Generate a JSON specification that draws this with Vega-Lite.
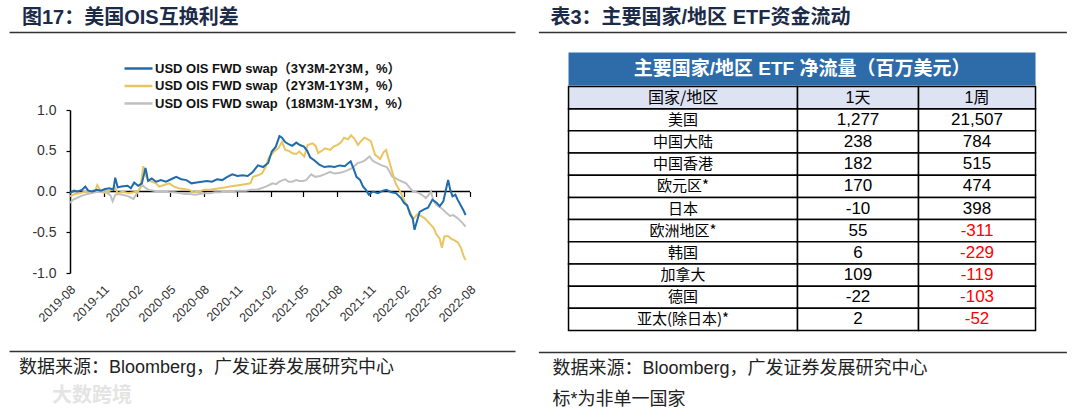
{
  "$schema": "https://vega.github.io/schema/vega-lite/v6.json",
  "padding": {"left": 9, "top": 0, "right": 5, "bottom": 0},
  "autosize": {"type": "pad"},
  "background": "#ffffff",
  "spacing": 23.4,
  "datasets": {
    "blue": [
      {"d":"2019-08-01","v":-0.02},{"d":"2019-08-12","v":0.01},{"d":"2019-08-22","v":0.0},{"d":"2019-09-03","v":0.02},{"d":"2019-09-12","v":0.06},{"d":"2019-09-20","v":0.01},{"d":"2019-10-01","v":0.0},{"d":"2019-10-14","v":0.02},{"d":"2019-10-25","v":0.01},{"d":"2019-11-05","v":0.03},{"d":"2019-11-18","v":0.04},{"d":"2019-11-28","v":0.02},{"d":"2019-12-03","v":0.17},{"d":"2019-12-10","v":0.05},{"d":"2019-12-20","v":0.06},{"d":"2020-01-06","v":0.07},{"d":"2020-01-15","v":0.04},{"d":"2020-01-24","v":0.11},{"d":"2020-02-04","v":0.07},{"d":"2020-02-14","v":0.10},{"d":"2020-02-24","v":0.29},{"d":"2020-03-02","v":0.13},{"d":"2020-03-12","v":0.16},{"d":"2020-03-24","v":0.12},{"d":"2020-04-06","v":0.14},{"d":"2020-04-20","v":0.12},{"d":"2020-05-04","v":0.15},{"d":"2020-05-18","v":0.18},{"d":"2020-06-01","v":0.15},{"d":"2020-06-15","v":0.14},{"d":"2020-06-29","v":0.10},{"d":"2020-07-13","v":0.11},{"d":"2020-07-27","v":0.12},{"d":"2020-08-10","v":0.13},{"d":"2020-08-24","v":0.12},{"d":"2020-09-07","v":0.15},{"d":"2020-09-21","v":0.14},{"d":"2020-10-05","v":0.18},{"d":"2020-10-19","v":0.21},{"d":"2020-11-02","v":0.19},{"d":"2020-11-16","v":0.20},{"d":"2020-11-30","v":0.19},{"d":"2020-12-14","v":0.24},{"d":"2020-12-28","v":0.32},{"d":"2021-01-11","v":0.30},{"d":"2021-01-25","v":0.35},{"d":"2021-02-04","v":0.49},{"d":"2021-02-15","v":0.55},{"d":"2021-02-25","v":0.68},{"d":"2021-03-04","v":0.66},{"d":"2021-03-12","v":0.61},{"d":"2021-03-22","v":0.58},{"d":"2021-04-01","v":0.56},{"d":"2021-04-12","v":0.60},{"d":"2021-04-22","v":0.57},{"d":"2021-05-03","v":0.55},{"d":"2021-05-12","v":0.50},{"d":"2021-05-20","v":0.42},{"d":"2021-06-01","v":0.38},{"d":"2021-06-14","v":0.33},{"d":"2021-06-28","v":0.30},{"d":"2021-07-12","v":0.31},{"d":"2021-07-26","v":0.30},{"d":"2021-08-09","v":0.32},{"d":"2021-08-23","v":0.31},{"d":"2021-09-02","v":0.35},{"d":"2021-09-08","v":0.37},{"d":"2021-09-16","v":0.28},{"d":"2021-09-24","v":0.18},{"d":"2021-10-04","v":0.14},{"d":"2021-10-12","v":0.06},{"d":"2021-10-20","v":0.02},{"d":"2021-10-28","v":-0.04},{"d":"2021-11-08","v":0.0},{"d":"2021-11-22","v":-0.02},{"d":"2021-12-06","v":0.01},{"d":"2021-12-15","v":0.02},{"d":"2021-12-28","v":-0.01},{"d":"2022-01-10","v":-0.02},{"d":"2022-01-24","v":-0.08},{"d":"2022-02-01","v":-0.14},{"d":"2022-02-10","v":-0.17},{"d":"2022-02-18","v":-0.28},{"d":"2022-02-25","v":-0.33},{"d":"2022-03-02","v":-0.47},{"d":"2022-03-09","v":-0.36},{"d":"2022-03-16","v":-0.25},{"d":"2022-03-28","v":-0.22},{"d":"2022-04-08","v":-0.20},{"d":"2022-04-20","v":-0.10},{"d":"2022-05-02","v":-0.14},{"d":"2022-05-10","v":-0.18},{"d":"2022-05-20","v":-0.12},{"d":"2022-06-02","v":0.14},{"d":"2022-06-08","v":0.02},{"d":"2022-06-14","v":-0.06},{"d":"2022-06-22","v":-0.04},{"d":"2022-06-28","v":-0.10},{"d":"2022-07-08","v":-0.18},{"d":"2022-07-14","v":-0.23},{"d":"2022-07-20","v":-0.29}
    ],
    "yellow": [
      {"d":"2019-08-01","v":-0.06},{"d":"2019-08-15","v":-0.03},{"d":"2019-08-29","v":-0.02},{"d":"2019-09-12","v":0.0},{"d":"2019-09-26","v":0.0},{"d":"2019-10-10","v":0.02},{"d":"2019-10-15","v":0.08},{"d":"2019-10-24","v":0.01},{"d":"2019-11-05","v":-0.01},{"d":"2019-11-19","v":0.01},{"d":"2019-12-01","v":0.06},{"d":"2019-12-10","v":-0.02},{"d":"2019-12-23","v":0.0},{"d":"2020-01-08","v":-0.02},{"d":"2020-01-22","v":-0.01},{"d":"2020-02-03","v":0.0},{"d":"2020-02-10","v":0.05},{"d":"2020-02-18","v":0.31},{"d":"2020-02-24","v":0.20},{"d":"2020-03-02","v":0.14},{"d":"2020-03-13","v":0.12},{"d":"2020-03-24","v":0.10},{"d":"2020-04-01","v":0.06},{"d":"2020-04-15","v":0.08},{"d":"2020-04-29","v":0.10},{"d":"2020-05-12","v":0.06},{"d":"2020-05-25","v":0.04},{"d":"2020-06-08","v":0.03},{"d":"2020-06-22","v":0.02},{"d":"2020-07-06","v":-0.01},{"d":"2020-07-20","v":0.0},{"d":"2020-08-03","v":0.02},{"d":"2020-08-17","v":0.02},{"d":"2020-08-31","v":0.03},{"d":"2020-09-14","v":0.04},{"d":"2020-09-28","v":0.05},{"d":"2020-10-12","v":0.06},{"d":"2020-10-26","v":0.07},{"d":"2020-11-09","v":0.08},{"d":"2020-11-23","v":0.09},{"d":"2020-12-07","v":0.10},{"d":"2020-12-15","v":0.18},{"d":"2020-12-28","v":0.20},{"d":"2021-01-08","v":0.22},{"d":"2021-01-18","v":0.30},{"d":"2021-01-27","v":0.42},{"d":"2021-02-10","v":0.49},{"d":"2021-02-22","v":0.53},{"d":"2021-03-04","v":0.61},{"d":"2021-03-13","v":0.51},{"d":"2021-03-22","v":0.50},{"d":"2021-04-01","v":0.47},{"d":"2021-04-12","v":0.46},{"d":"2021-04-20","v":0.49},{"d":"2021-05-04","v":0.43},{"d":"2021-05-13","v":0.57},{"d":"2021-05-27","v":0.59},{"d":"2021-06-04","v":0.56},{"d":"2021-06-11","v":0.47},{"d":"2021-06-21","v":0.50},{"d":"2021-06-30","v":0.53},{"d":"2021-07-14","v":0.51},{"d":"2021-07-23","v":0.55},{"d":"2021-08-02","v":0.57},{"d":"2021-08-12","v":0.60},{"d":"2021-08-21","v":0.66},{"d":"2021-09-01","v":0.64},{"d":"2021-09-09","v":0.69},{"d":"2021-09-18","v":0.65},{"d":"2021-09-28","v":0.57},{"d":"2021-10-07","v":0.62},{"d":"2021-10-16","v":0.66},{"d":"2021-10-25","v":0.64},{"d":"2021-11-02","v":0.62},{"d":"2021-11-14","v":0.45},{"d":"2021-11-28","v":0.40},{"d":"2021-12-07","v":0.48},{"d":"2021-12-14","v":0.51},{"d":"2021-12-26","v":0.32},{"d":"2022-01-09","v":0.10},{"d":"2022-01-18","v":0.03},{"d":"2022-01-26","v":-0.04},{"d":"2022-02-07","v":-0.16},{"d":"2022-02-17","v":-0.24},{"d":"2022-02-26","v":-0.34},{"d":"2022-03-10","v":-0.28},{"d":"2022-03-20","v":-0.30},{"d":"2022-03-30","v":-0.33},{"d":"2022-04-14","v":-0.40},{"d":"2022-04-24","v":-0.45},{"d":"2022-04-30","v":-0.52},{"d":"2022-05-10","v":-0.58},{"d":"2022-05-16","v":-0.69},{"d":"2022-05-23","v":-0.55},{"d":"2022-06-03","v":-0.55},{"d":"2022-06-10","v":-0.58},{"d":"2022-06-20","v":-0.60},{"d":"2022-06-30","v":-0.63},{"d":"2022-07-08","v":-0.70},{"d":"2022-07-15","v":-0.80},{"d":"2022-07-20","v":-0.84}
    ],
    "gray": [
      {"d":"2019-08-01","v":-0.14},{"d":"2019-08-10","v":-0.10},{"d":"2019-08-20","v":-0.08},{"d":"2019-09-03","v":-0.05},{"d":"2019-09-17","v":-0.03},{"d":"2019-10-01","v":-0.02},{"d":"2019-10-15","v":0.0},{"d":"2019-10-29","v":-0.01},{"d":"2019-11-12","v":-0.02},{"d":"2019-11-20","v":-0.05},{"d":"2019-11-26","v":-0.12},{"d":"2019-12-03","v":-0.04},{"d":"2019-12-10","v":-0.03},{"d":"2019-12-24","v":-0.04},{"d":"2020-01-08","v":-0.06},{"d":"2020-01-22","v":-0.09},{"d":"2020-02-06","v":0.02},{"d":"2020-02-15","v":0.08},{"d":"2020-02-25","v":0.04},{"d":"2020-03-04","v":0.02},{"d":"2020-03-18","v":0.01},{"d":"2020-04-01","v":0.0},{"d":"2020-04-15","v":0.0},{"d":"2020-04-29","v":-0.01},{"d":"2020-05-13","v":-0.01},{"d":"2020-05-27","v":-0.02},{"d":"2020-06-10","v":-0.03},{"d":"2020-06-24","v":-0.03},{"d":"2020-07-08","v":-0.04},{"d":"2020-07-22","v":-0.03},{"d":"2020-08-05","v":-0.02},{"d":"2020-08-19","v":-0.02},{"d":"2020-09-02","v":-0.01},{"d":"2020-09-16","v":-0.01},{"d":"2020-09-30","v":0.0},{"d":"2020-10-14","v":0.0},{"d":"2020-10-28","v":0.01},{"d":"2020-11-11","v":0.01},{"d":"2020-11-25","v":0.01},{"d":"2020-12-09","v":0.02},{"d":"2020-12-23","v":0.02},{"d":"2021-01-06","v":0.04},{"d":"2021-01-18","v":0.06},{"d":"2021-01-28","v":0.08},{"d":"2021-02-06","v":0.10},{"d":"2021-02-16","v":0.09},{"d":"2021-02-25","v":0.12},{"d":"2021-03-06","v":0.14},{"d":"2021-03-13","v":0.15},{"d":"2021-03-22","v":0.12},{"d":"2021-04-01","v":0.12},{"d":"2021-04-12","v":0.14},{"d":"2021-04-20","v":0.13},{"d":"2021-05-01","v":0.13},{"d":"2021-05-09","v":0.14},{"d":"2021-05-23","v":0.21},{"d":"2021-06-03","v":0.18},{"d":"2021-06-16","v":0.19},{"d":"2021-06-28","v":0.21},{"d":"2021-07-14","v":0.24},{"d":"2021-07-26","v":0.22},{"d":"2021-08-11","v":0.23},{"d":"2021-08-25","v":0.25},{"d":"2021-09-09","v":0.28},{"d":"2021-09-18","v":0.31},{"d":"2021-09-28","v":0.35},{"d":"2021-10-07","v":0.36},{"d":"2021-10-16","v":0.38},{"d":"2021-10-30","v":0.43},{"d":"2021-11-07","v":0.38},{"d":"2021-11-14","v":0.36},{"d":"2021-11-24","v":0.34},{"d":"2021-12-02","v":0.32},{"d":"2021-12-16","v":0.30},{"d":"2021-12-24","v":0.24},{"d":"2021-12-31","v":0.18},{"d":"2022-01-10","v":0.16},{"d":"2022-01-18","v":0.14},{"d":"2022-01-28","v":0.12},{"d":"2022-02-07","v":0.10},{"d":"2022-02-16","v":0.05},{"d":"2022-02-26","v":0.0},{"d":"2022-03-07","v":-0.01},{"d":"2022-03-15","v":-0.02},{"d":"2022-03-25","v":-0.05},{"d":"2022-04-02","v":-0.08},{"d":"2022-04-10","v":-0.04},{"d":"2022-04-16","v":0.0},{"d":"2022-04-22","v":-0.10},{"d":"2022-04-30","v":-0.16},{"d":"2022-05-10","v":-0.19},{"d":"2022-05-19","v":-0.22},{"d":"2022-05-28","v":-0.26},{"d":"2022-06-07","v":-0.30},{"d":"2022-06-16","v":-0.29},{"d":"2022-06-26","v":-0.32},{"d":"2022-07-06","v":-0.36},{"d":"2022-07-14","v":-0.40},{"d":"2022-07-20","v":-0.43}
    ],
    "table": [
      {"region": "美国", "d1": 1277, "w1": 21507},
      {"region": "中国大陆", "d1": 238, "w1": 784},
      {"region": "中国香港", "d1": 182, "w1": 515},
      {"region": "欧元区*", "d1": 170, "w1": 474},
      {"region": "日本", "d1": -10, "w1": 398},
      {"region": "欧洲地区*", "d1": 55, "w1": -311},
      {"region": "韩国", "d1": 6, "w1": -229},
      {"region": "加拿大", "d1": 109, "w1": -119},
      {"region": "德国", "d1": -22, "w1": -103},
      {"region": "亚太(除日本)*", "d1": 2, "w1": -52}
    ]
  },
  "hconcat": [
    {
      "bounds": "flush",
      "spacing": 78,
      "vconcat": [
        {
          "width": 506, "height": 32,
          "data": {"values": [{"t": "图17：美国OIS互换利差"}]},
          "mark": {"type": "text", "align": "left", "baseline": "middle", "dx": 13, "dy": 2, "fontSize": 20, "fontWeight": "bold", "font": "'Liberation Sans', 'Noto Sans CJK SC'", "color": "#1c2b48"},
          "encoding": {
            "text": {"field": "t"},
            "x": {"datum": 0, "type": "quantitative", "scale": {"domain": [0, 1], "nice": false, "zero": false},
                  "axis": {"orient": "bottom", "domain": true, "domainColor": "#333333", "domainWidth": 1.6, "labels": false, "ticks": false, "grid": false, "title": null}}
          }
        },
        {
          "width": 461, "height": 163,
          "resolve": {"axis": {"x": "independent"}},
          "layer": [
            {
              "data": {"values": [{"zero": 0}]},
              "mark": {"type": "rule", "color": "#000000", "strokeWidth": 1.3},
              "encoding": {
                "x": {"datum": {"year": 2019, "month": 8, "date": 1, "utc": true}, "type": "temporal",
                      "scale": {"type": "utc", "domain": [{"year": 2019, "month": 2, "date": 15, "utc": true}, {"year": 2022, "month": 8, "date": 1, "utc": true}]},
                      "axis": {"orient": "bottom", "offset": -81.5, "labels": false, "domain": false, "ticks": true, "tickSize": 5, "tickColor": "#000000", "tickWidth": 1.2, "grid": false, "title": null,
                               "values": [{"year":2019,"month":8,"date":1,"utc":true},{"year":2019,"month":11,"date":1,"utc":true},{"year":2020,"month":2,"date":1,"utc":true},{"year":2020,"month":5,"date":1,"utc":true},{"year":2020,"month":8,"date":1,"utc":true},{"year":2020,"month":11,"date":1,"utc":true},{"year":2021,"month":2,"date":1,"utc":true},{"year":2021,"month":5,"date":1,"utc":true},{"year":2021,"month":8,"date":1,"utc":true},{"year":2021,"month":11,"date":1,"utc":true},{"year":2022,"month":2,"date":1,"utc":true},{"year":2022,"month":5,"date":1,"utc":true},{"year":2022,"month":8,"date":1,"utc":true}]}},
                "x2": {"datum": {"year": 2022, "month": 8, "date": 1, "utc": true}},
                "y": {"field": "zero", "type": "quantitative", "title": null, "scale": {"domain": [-1, 1], "nice": false, "zero": false}}
              }
            },
            {
              "data": {"name": "gray"},
              "mark": {"type": "line", "strokeWidth": 2},
              "encoding": {
                "x": {"field": "d", "type": "temporal",
                      "scale": {"type": "utc", "domain": [{"year": 2019, "month": 2, "date": 15, "utc": true}, {"year": 2022, "month": 8, "date": 1, "utc": true}]},
                      "axis": {"orient": "bottom", "labelExpr": "utcFormat(datum.value, '%Y-%m')", "labelAngle": -45, "labelAlign": "right", "labelBaseline": "middle", "labelFontSize": 12.5, "labelColor": "#333333", "labelFont": "'Liberation Sans'", "ticks": false, "tickSize": 0, "domain": false, "labelPadding": 14, "labelOffset": 3, "labelFlush": false, "labelOverlap": false, "labelBound": false, "grid": false, "title": null,
                               "values": [{"year":2019,"month":8,"date":1,"utc":true},{"year":2019,"month":11,"date":1,"utc":true},{"year":2020,"month":2,"date":1,"utc":true},{"year":2020,"month":5,"date":1,"utc":true},{"year":2020,"month":8,"date":1,"utc":true},{"year":2020,"month":11,"date":1,"utc":true},{"year":2021,"month":2,"date":1,"utc":true},{"year":2021,"month":5,"date":1,"utc":true},{"year":2021,"month":8,"date":1,"utc":true},{"year":2021,"month":11,"date":1,"utc":true},{"year":2022,"month":2,"date":1,"utc":true},{"year":2022,"month":5,"date":1,"utc":true},{"year":2022,"month":8,"date":1,"utc":true}]}},
                "y": {"field": "v", "type": "quantitative", "title": null, "scale": {"domain": [-1, 1], "nice": false, "zero": false}},
                "color": {"datum": "18M3M-1Y3M",
                          "scale": {"domain": ["3Y3M-2Y3M", "2Y3M-1Y3M", "18M3M-1Y3M"], "range": ["#1f6bae", "#e8c55f", "#c0c0c0"]},
                          "legend": {"orient": "none", "legendX": 121, "legendY": 60, "direction": "vertical", "title": null, "padding": 0, "offset": 0,
                                     "symbolType": "M-2,0H2", "symbolSize": 196, "symbolStrokeWidth": 2.5, "rowPadding": 1.5,
                                     "labelExpr": "'USD OIS FWD swap（' + datum.label + '，%）'", "labelFont": "'Liberation Sans', 'Noto Sans CJK SC'", "labelFontSize": 13, "labelFontWeight": "bold", "labelColor": "#111111", "labelLimit": 400, "labelOffset": 8}}
              }
            },
            {
              "data": {"name": "yellow"},
              "mark": {"type": "line", "strokeWidth": 2},
              "encoding": {
                "x": {"field": "d", "type": "temporal", "axis": null,
                      "scale": {"type": "utc", "domain": [{"year": 2019, "month": 2, "date": 15, "utc": true}, {"year": 2022, "month": 8, "date": 1, "utc": true}]}},
                "y": {"field": "v", "type": "quantitative", "title": null, "scale": {"domain": [-1, 1], "nice": false, "zero": false}},
                "color": {"datum": "2Y3M-1Y3M"}
              }
            },
            {
              "data": {"name": "blue"},
              "mark": {"type": "line", "strokeWidth": 2},
              "encoding": {
                "x": {"field": "d", "type": "temporal", "axis": null,
                      "scale": {"type": "utc", "domain": [{"year": 2019, "month": 2, "date": 15, "utc": true}, {"year": 2022, "month": 8, "date": 1, "utc": true}]}},
                "y": {"field": "v", "type": "quantitative", "title": null, "scale": {"domain": [-1, 1], "nice": false, "zero": false}},
                "color": {"datum": "3Y3M-2Y3M"}
              }
            }
          ]
        },
        {
          "width": 506, "height": 63,
          "layer": [
            {
              "data": {"values": [{"k": "1", "t": "数据来源：Bloomberg，广发证券发展研究中心"}]},
              "mark": {"type": "text", "align": "left", "baseline": "middle", "dx": 10, "dy": 1, "fontSize": 18, "font": "'Liberation Sans', 'Noto Sans CJK SC'", "color": "#222222"},
              "encoding": {
                "text": {"field": "t"},
                "x": {"datum": 0, "type": "quantitative", "scale": {"domain": [0, 1], "nice": false, "zero": false},
                      "axis": {"orient": "top", "domain": true, "domainColor": "#333333", "domainWidth": 1.6, "labels": false, "ticks": false, "grid": false, "title": null}},
                "y": {"field": "k", "type": "ordinal", "scale": {"type": "point", "domain": ["1", "2"], "padding": 0.516}, "axis": null}
              }
            },
            {
              "data": {"values": [{"k": "2", "t": "大数跨境"}]},
              "mark": {"type": "text", "align": "left", "baseline": "middle", "dx": 43, "dy": -2, "fontSize": 20, "fontWeight": "bold", "font": "'Noto Sans CJK SC'", "color": "#e4e4e4"},
              "encoding": {
                "text": {"field": "t"},
                "x": {"datum": 0, "type": "quantitative"},
                "y": {"field": "k", "type": "ordinal"}
              }
            }
          ]
        }
      ]
    },
    {
      "spacing": 20.5,
      "center": true,
      "vconcat": [
        {
          "width": 528, "height": 32,
          "data": {"values": [{"t": "表3：主要国家/地区  ETF资金流动"}]},
          "mark": {"type": "text", "align": "left", "baseline": "middle", "dx": 12, "dy": 2, "fontSize": 20, "fontWeight": "bold", "font": "'Liberation Sans', 'Noto Sans CJK SC'", "color": "#1c2b48"},
          "encoding": {
            "text": {"field": "t"},
            "x": {"datum": 0, "type": "quantitative", "scale": {"domain": [0, 1], "nice": false, "zero": false},
                  "axis": {"orient": "bottom", "domain": true, "domainColor": "#333333", "domainWidth": 1.6, "labels": false, "ticks": false, "grid": false, "title": null}}
          }
        },
        {
          "spacing": 0,
          "vconcat": [
            {
              "width": 467, "height": 33,
              "view": {"fill": "#2d6ca9", "stroke": null},
              "data": {"values": [{"t": "主要国家/地区 ETF 净流量（百万美元）"}]},
              "mark": {"type": "text", "align": "center", "baseline": "middle", "fontSize": 19, "fontWeight": "bold", "font": "'Liberation Sans', 'Noto Sans CJK SC'", "color": "#ffffff"},
              "encoding": {"text": {"field": "t"}}
            },
            {
              "bounds": "flush",
              "spacing": 0,
              "hconcat": [
                {
                  "width": 229, "height": 244,
                  "layer": [
                    {
                      "data": {"name": "table"},
                      "mark": {"type": "rect", "fill": "#ffffff", "stroke": "#000000", "strokeWidth": 1.5},
                      "encoding": {"y": {"field": "region", "type": "nominal", "axis": null, "scale": {"type": "band", "paddingInner": 0, "paddingOuter": 0, "domain": ["国家/地区", "美国", "中国大陆", "中国香港", "欧元区*", "日本", "欧洲地区*", "韩国", "加拿大", "德国", "亚太(除日本)*"]}}}
                    },
                    {
                      "data": {"values": [{"c1": "国家/地区", "c2": "1天", "c3": "1周"}]},
                      "mark": {"type": "rect", "fill": "#dde3f3", "stroke": "#000000", "strokeWidth": 1.5},
                      "encoding": {"y": {"datum": "国家/地区", "type": "nominal"}}
                    },
                    {
                      "data": {"name": "table"},
                      "mark": {"type": "text", "align": "center", "baseline": "middle", "fontSize": 15, "font": "'Noto Sans CJK SC'", "color": "#000000"},
                      "encoding": {"y": {"field": "region", "type": "nominal"}, "text": {"field": "region"}}
                    },
                    {
                      "data": {"values": [{"c1": "国家/地区", "c2": "1天", "c3": "1周"}]},
                      "mark": {"type": "text", "align": "center", "baseline": "middle", "fontSize": 16, "font": "'Noto Sans CJK SC'", "color": "#000000"},
                      "encoding": {"y": {"datum": "国家/地区", "type": "nominal"}, "text": {"field": "c1"}}
                    }
                  ]
                },
                {
                  "width": 121, "height": 244,
                  "layer": [
                    {
                      "data": {"name": "table"},
                      "mark": {"type": "rect", "fill": "#ffffff", "stroke": "#000000", "strokeWidth": 1.5},
                      "encoding": {"y": {"field": "region", "type": "nominal", "axis": null, "scale": {"type": "band", "paddingInner": 0, "paddingOuter": 0, "domain": ["国家/地区", "美国", "中国大陆", "中国香港", "欧元区*", "日本", "欧洲地区*", "韩国", "加拿大", "德国", "亚太(除日本)*"]}}}
                    },
                    {
                      "data": {"values": [{"c1": "国家/地区", "c2": "1天", "c3": "1周"}]},
                      "mark": {"type": "rect", "fill": "#dde3f3", "stroke": "#000000", "strokeWidth": 1.5},
                      "encoding": {"y": {"datum": "国家/地区", "type": "nominal"}}
                    },
                    {
                      "data": {"name": "table"},
                      "mark": {"type": "text", "align": "center", "baseline": "middle", "fontSize": 17, "font": "'Liberation Sans'", "color": "#000000"},
                      "encoding": {"y": {"field": "region", "type": "nominal"}, "text": {"field": "d1", "type": "quantitative", "format": ",d"}}
                    },
                    {
                      "data": {"values": [{"c1": "国家/地区", "c2": "1天", "c3": "1周"}]},
                      "mark": {"type": "text", "align": "center", "baseline": "middle", "fontSize": 16, "font": "'Liberation Sans', 'Noto Sans CJK SC'", "color": "#000000"},
                      "encoding": {"y": {"datum": "国家/地区", "type": "nominal"}, "text": {"field": "c2"}}
                    }
                  ]
                },
                {
                  "width": 117, "height": 244,
                  "layer": [
                    {
                      "data": {"name": "table"},
                      "mark": {"type": "rect", "fill": "#ffffff", "stroke": "#000000", "strokeWidth": 1.5},
                      "encoding": {"y": {"field": "region", "type": "nominal", "axis": null, "scale": {"type": "band", "paddingInner": 0, "paddingOuter": 0, "domain": ["国家/地区", "美国", "中国大陆", "中国香港", "欧元区*", "日本", "欧洲地区*", "韩国", "加拿大", "德国", "亚太(除日本)*"]}}}
                    },
                    {
                      "data": {"values": [{"c1": "国家/地区", "c2": "1天", "c3": "1周"}]},
                      "mark": {"type": "rect", "fill": "#dde3f3", "stroke": "#000000", "strokeWidth": 1.5},
                      "encoding": {"y": {"datum": "国家/地区", "type": "nominal"}}
                    },
                    {
                      "data": {"name": "table"},
                      "mark": {"type": "text", "align": "center", "baseline": "middle", "fontSize": 17, "font": "'Liberation Sans'"},
                      "encoding": {"y": {"field": "region", "type": "nominal"}, "text": {"field": "w1", "type": "quantitative", "format": ",d"},
                                   "color": {"condition": {"test": "datum.w1 < 0", "value": "#ff0000"}, "value": "#000000"}}
                    },
                    {
                      "data": {"values": [{"c1": "国家/地区", "c2": "1天", "c3": "1周"}]},
                      "mark": {"type": "text", "align": "center", "baseline": "middle", "fontSize": 16, "font": "'Liberation Sans', 'Noto Sans CJK SC'", "color": "#000000"},
                      "encoding": {"y": {"datum": "国家/地区", "type": "nominal"}, "text": {"field": "c3"}}
                    }
                  ]
                }
              ]
            }
          ]
        },
        {
          "width": 528, "height": 63,
          "data": {"values": [{"k": "1", "t": "数据来源：Bloomberg，广发证券发展研究中心"}, {"k": "2", "t": "标*为非单一国家"}]},
          "mark": {"type": "text", "align": "left", "baseline": "middle", "dx": 14, "dy": 1, "fontSize": 18, "font": "'Liberation Sans', 'Noto Sans CJK SC'", "color": "#222222"},
          "encoding": {
            "text": {"field": "t"},
            "x": {"datum": 0, "type": "quantitative", "scale": {"domain": [0, 1], "nice": false, "zero": false},
                  "axis": {"orient": "top", "domain": true, "domainColor": "#333333", "domainWidth": 1.6, "labels": false, "ticks": false, "grid": false, "title": null}},
            "y": {"field": "k", "type": "ordinal", "scale": {"type": "point", "domain": ["1", "2"], "padding": 0.516}, "axis": null}
          }
        }
      ]
    }
  ],
  "config": {
    "view": {"stroke": null},
    "axis": {"grid": false, "labelFont": "'Liberation Sans'"},
    "axisY": {"offset": -61, "domainColor": "#000000", "domainWidth": 1.5, "tickColor": "#000000", "tickSize": 4, "tickWidth": 1.2, "labelFontSize": 14, "labelColor": "#333333", "labelPadding": 10, "tickCount": 5, "format": ".1f", "grid": false},
    "locale": {"number": {"decimal": ".", "thousands": ",", "grouping": [3], "currency": ["$", ""], "minus": "-"}}
  }
}
